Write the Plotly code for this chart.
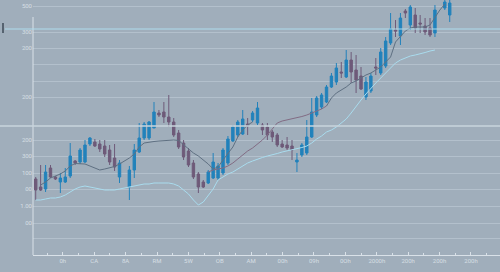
import plotly.graph_objects as go

# ---------------- data ----------------
idx = list(range(85))

opens = [76, 68, 66, 87, 78, 73, 73, 79, 94, 93, 93, 111, 113, 111, 109, 105, 97, 78, None, 68,
         85, 103, 117, 117, 127, 142, 143, 138, 133, 122, 112, 104, 92, 81, 73, 72, 77, 77, 82, 92,
         114, 120, 121, 131, 135, 132, 130, 128, 123, 120, 111, 110, 109, 93, 100, 102, 118, 140, 148, 153,
         168, 173, 183, 178, 195, 185, 179, 158, 164, 188, 182, 189, 212, 225, 219, 244, 230, 240, 232, 229,
         227, 222, None, 247, 240]
highs = [78, 90, 90, 90, 79, 82, 87, 112, 95, 107, 115, 118, 116, 115, 115, 110, 111, 95, None, 89,
         111, 132, 133, 134, 153, 145, 153, 160, 137, 125, 115, 107, 95, 83, 75, 85, 102, 92, 107, 119,
         130, 135, 145, 137, 144, 153, 132, 132, 125, 122, 115, 118, 115, 102, 112, 135, 157, 159, 162, 170,
         182, 192, 193, 205, 203, 200, 188, 178, 182, 197, 207, 218, 242, 235, 242, 246, 250, 247, 240, 237,
         237, 250, None, 255, 255]
lows = [55, 64, 63, 77, 75, 62, 72, 77, 90, 91, 92, 109, 108, 103, 98, 90, 84, 72, None, 55,
        77, 102, 115, 115, 127, 138, 132, 128, 118, 106, 95, 88, 76, 62, 67, 71, 76, 75, 80, 90,
        113, 118, 120, 120, 133, 130, 120, 115, 113, 108, 107, 105, 95, 83, 98, 100, 117, 138, 146, 152,
        167, 170, 177, 177, 172, 162, 165, 155, 162, 180, 180, 187, 210, 218, 210, 237, 225, 222, 222, 220,
        218, 218, None, 245, 233]
closes = [65, 65, 83, 78, 76, 77, 78, 99, 92, 105, 110, 117, 109, 106, 101, 93, 88, 92, None, 85,
          105, 117, 131, 133, 143, 140, 138, 133, 120, 108, 98, 90, 78, 68, 68, 83, 93, 89, 105, 116,
          128, 133, 136, 129, 142, 147, 125, 120, 118, 110, 108, 107, 105, 95, 110, 118, 143, 157, 160, 168,
          179, 187, 182, 195, 183, 175, 166, 173, 179, 187, 203, 214, 226, 224, 237, 242, 248, 227, 231, 223,
          220, 245, None, 253, 252]

# short average (dark slate), with a break
ma_short = [None, 70, 73, 77, 79, 81, 84, 89, 91.5, 91.5, 91, 89, 87, 85, 86, 87.5, 88.5, 91, 94, 97,
            101, 108, 112, 113, 113.5, 114, 114.5, 115, 115, 114.5, 110, 106, 102, 99, 95, 91, 86, 88, 95, 101,
            108, 118, 125, 130, 133, None, None, None, None, None, None, None, None, None, None, None, None, None, None, 149,
            157, 162, 165, 168, 172, 174, 177, 180, 182, 185, 188, 193, 198, 213, 219, 224, 227, 228, 228, 228,
            230, 238, 245, 251, None]
# medium average (mauve)
ma_mid = [None] * 35 + [83, 85, 86, 87, 89, 92, 96, 100, 104, 107, 111, 115, 120, 126, 132,
                        134, 135, 136, 137, 138.5, 140, 142, 144, 146, 149] + [None] * 25
# long average (light blue)
ma_long = [55, 55, 56, 57, 57, 58, 60, 63, 66, 68, 69, 68, 67, 66, 65, 65, 65, 66, 67, 68,
           69, 70, 71, 71, 72, 72, 72, 72, 71, 69, 65, 61, 55, 50, 53, 59, 66, 75, 78, 81,
           83, 86, 89, 92, 94, 96, 97.5, 99, 100, 101.5, 103, 104, 105, 106, 107.5, 109, 112, 116, 119, 123,
           125, 128, 132, 136, 142, 149, 155, 161, 167, 172, 177, 182, 187, 192, 195, 197, 199, 200, 201, 202.5,
           204, 205, None, None, None]

x_tick_labels = ["0h", "CA", "8A", "RM", "5W", "OB", "AM", "00h", "09h", "0Oh", "2000h", "200h", "200h", "200h", "2"]
y_tick_labels = ["500", "300", "200", "", "", "200", "200", "300", "100", "00", "1.00", "00", ""]

# ---------------- styling / layout ----------------
BG = "#a0aebb"
BLUE = "#2282bb"
PURPLE = "#6e5a79"
GRID = "rgba(210,221,231,0.38)"
TXT = "rgba(232,238,244,0.75)"

fig = go.Figure()
fig.add_trace(go.Candlestick(
    x=idx, open=opens, high=highs, low=lows, close=closes,
    increasing=dict(line=dict(color=BLUE, width=1), fillcolor=BLUE),
    decreasing=dict(line=dict(color=PURPLE, width=1), fillcolor=PURPLE),
    whiskerwidth=0, hoverinfo="skip", showlegend=False))
fig.add_trace(go.Scatter(x=idx, y=ma_long, mode="lines", line=dict(color="#a9dcee", width=1),
                         hoverinfo="skip", showlegend=False))
fig.add_trace(go.Scatter(x=idx, y=ma_mid, mode="lines", line=dict(color="#826c84", width=1),
                         hoverinfo="skip", showlegend=False))
fig.add_trace(go.Scatter(x=idx, y=ma_short, mode="lines", line=dict(color="#5f7082", width=1),
                         hoverinfo="skip", showlegend=False))

x_tickvals = [5.5 + 6.37 * k for k in range(len(x_tick_labels))]
x_minor = [2.3 + 6.37 * k for k in range(len(x_tick_labels) + 1)]
y_tickvals = [249, 223, 207, 191, 174, 158, 115, 99, 82, 66, 49, 32, 17]

fig.update_layout(
    width=500, height=272,
    margin=dict(l=33, r=0, t=0, b=17),
    paper_bgcolor=BG, plot_bgcolor=BG,
    font=dict(family="Roboto", size=6, color=TXT),
    showlegend=False, hovermode=False,
    boxgap=0.3,
    xaxis=dict(range=[-0.55, 94.2], rangeslider=dict(visible=False), showgrid=False, zeroline=False,
               tickmode="array", tickvals=x_tickvals, ticktext=x_tick_labels,
               ticks="inside", ticklen=3, tickcolor="#d9e1e8", tickwidth=1,
               minor=dict(tickmode="array", tickvals=x_minor, ticks="inside", ticklen=2, tickcolor="#d9e1e8"),
               showline=True, linecolor="#d9e1e8", linewidth=1,
               tickfont=dict(size=6, color=TXT)),
    yaxis=dict(range=[0, 255], showgrid=True, gridcolor=GRID, gridwidth=1, zeroline=False,
               tickmode="array", tickvals=y_tickvals, ticktext=y_tick_labels,
               ticks="", showline=False, tickfont=dict(size=6, color=TXT)),
)

# left axis line (starts below the top), bright horizontal rules, small mark
fig.add_shape(type="line", xref="paper", yref="paper", x0=0, x1=0, y0=0, y1=(255 - 17) / 255,
              line=dict(color="#d9e1e8", width=1))
fig.add_shape(type="line", xref="paper", yref="paper", x0=-28 / 467, x1=1, y0=226 / 255, y1=226 / 255,
              line=dict(color="#addcee", width=1.2))
fig.add_shape(type="line", xref="paper", yref="paper", x0=-33 / 467, x1=1, y0=129 / 255, y1=129 / 255,
              line=dict(color="#c9d4dd", width=1.3))
fig.add_shape(type="line", xref="paper", yref="paper", x0=-30 / 467, x1=-30 / 467, y0=222 / 255, y1=232 / 255,
              line=dict(color="#3e4a57", width=1.5))

fig.write_html("out.html", config={"displayModeBar": False})
